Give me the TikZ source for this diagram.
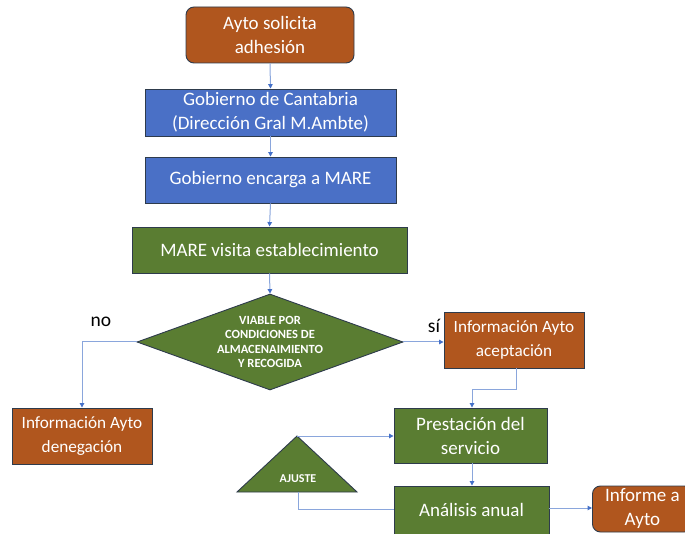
\documentclass[tikz,border=0pt]{standalone}
\usepackage{fontspec}
\setmainfont{Carlito}
\usetikzlibrary{arrows.meta,shapes.geometric}
\definecolor{ayto}{HTML}{B0561E}
\definecolor{gob}{HTML}{4A70C6}
\definecolor{mare}{HTML}{5A7D32}
\definecolor{edge}{HTML}{2E3B4C}
\definecolor{link}{HTML}{8AA6DC}
\definecolor{tipc}{HTML}{4470C8}
\tikzset{
  boxbase/.style={draw=edge, line width=0.9pt, text=white, align=center,
    inner sep=0pt, font=\fontsize{19}{24}\selectfont},
  orangebox/.style={boxbase, fill=ayto},
  infobox/.style={orangebox, font=\fontsize{17.2}{24}\selectfont},
  bluebox/.style={boxbase, fill=gob},
  greenbox/.style={boxbase, fill=mare},
  flow/.style={draw=link, line width=1pt,
    -{Triangle[length=4.5pt,width=4.5pt,color=tipc,fill=tipc]}},
  plainflow/.style={draw=link, line width=1pt},
  tag/.style={text=black, font=\fontsize{19.5}{22}\selectfont, inner sep=0pt},
}
\begin{document}
\begin{tikzpicture}[x=1pt,y=-1pt]
\useasboundingbox (0,0) rectangle (685,534);

% process steps
\node[orangebox, rounded corners=8pt, minimum width=168, minimum height=56]
  (solicita) at (270,35) {Ayto solicita\\adhesión};
\node[bluebox, minimum width=251, minimum height=47]
  (cantabria) at (270.5,112.5) {Gobierno de Cantabria\\(Dirección Gral M.Ambte)};
\node[bluebox, minimum width=251, minimum height=46]
  (encarga) at (270.5,180) {Gobierno encarga a MARE};
\node[greenbox, minimum width=275, minimum height=46]
  (visita) at (269.5,250) {MARE visita establecimiento};

% decision
\node[diamond, aspect=2.77, draw=edge, line width=0.9pt, fill=mare, text=white,
  minimum width=266, minimum height=96, inner sep=0pt, align=center,
  font=\fontsize{12.5}{14.2}\selectfont\bfseries]
  (viable) at (270,342) {VIABLE POR\\CONDICIONES DE\\ALMACENAIMIENTO\\Y RECOGIDA};

% outcomes
\node[infobox, minimum width=140, minimum height=56]
  (acepta) at (514,340) {Información Ayto\\aceptación};
\node[infobox, minimum width=140, minimum height=56]
  (deniega) at (82,436) {Información Ayto\\denegación};
\node[greenbox, minimum width=153, minimum height=55]
  (presta) at (470.5,435.5) {Prestación del\\servicio};
\node[greenbox, minimum width=155, minimum height=48]
  (analisis) at (471.5,510) {Análisis anual};
\node[orangebox, rounded corners=8pt, minimum width=100, minimum height=46, anchor=west]
  (informe) at (592,509) {Informe a\\Ayto};

% adjustment triangle
\coordinate (ajtop) at (297,436);
\coordinate (ajbot) at (298,492);
\draw[edge, line width=0.9pt, fill=mare] (ajtop) -- (357,492) -- (237,492) -- cycle;
\node[text=white, inner sep=0pt, font=\fontsize{12}{13}\selectfont\bfseries]
  (ajuste) at (298,479) {AJUSTE};

% branch labels
\node[tag] (nolab) at (101,322) {no};
\node[tag] (silab) at (434,326) {sí};

% connectors
\draw[flow] (solicita.south) -- (cantabria.north);
\draw[flow] (cantabria.south) -- (encarga.north);
\draw[flow] (encarga.south) -- (visita.north);
\draw[flow] (visita.south) -- (viable.north);
\draw[flow] (viable.east) -- (acepta.west |- viable.east);
\draw[flow] (viable.west) -| (deniega.north);
\draw[flow] (acepta.south -| 516,0) |- (472,389) -- (presta.north -| 472,0);
\draw[flow] (presta.south -| 472,0) -- (analisis.north -| 472,0);
\draw[flow] (analisis.east |- 0,508) -- (informe.west |- 0,508);
\draw[flow] (ajtop) -- (presta.west |- ajtop);
\draw[plainflow] (ajbot) |- (analisis.west |- 0,509);
\end{tikzpicture}
\end{document}
